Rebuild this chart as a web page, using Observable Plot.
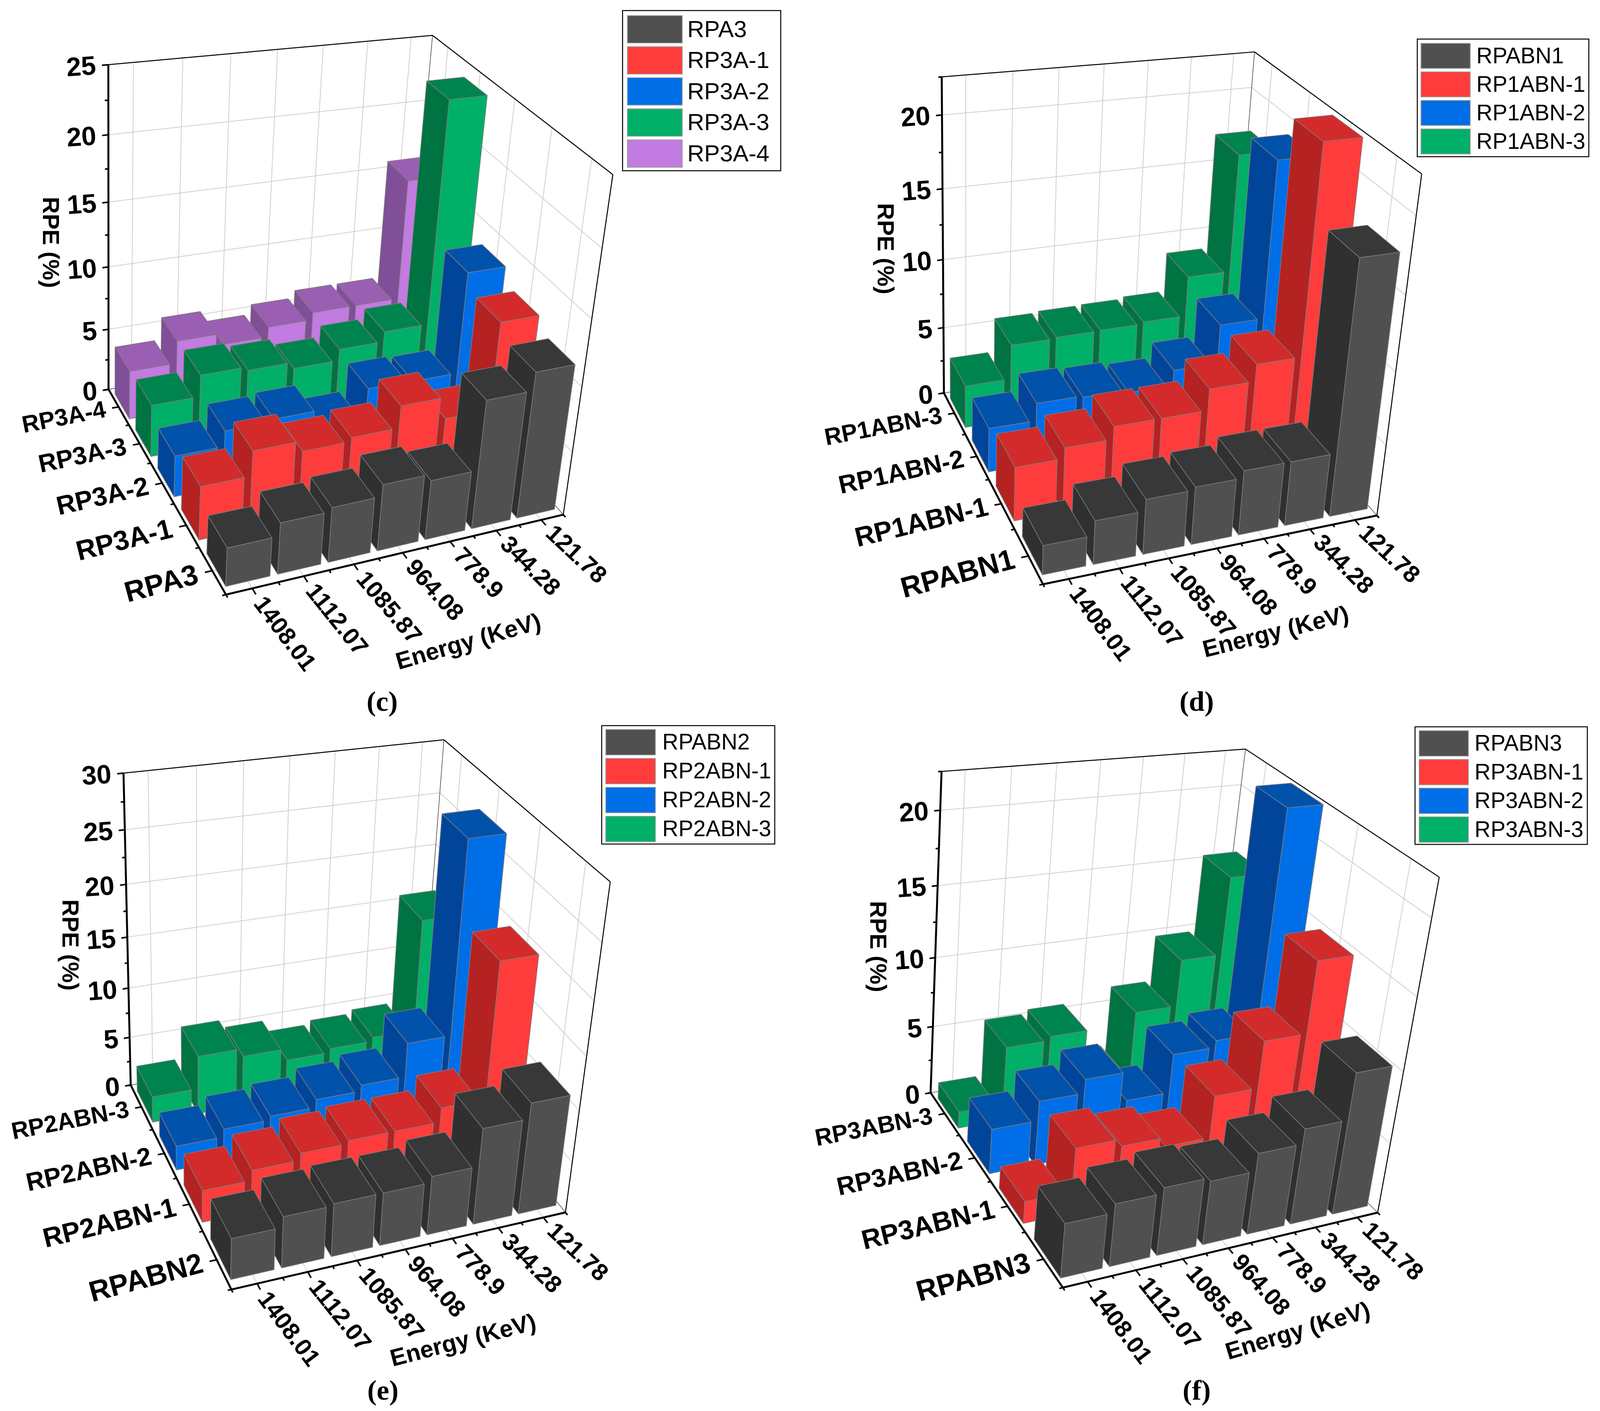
<!DOCTYPE html>
<html>
<head>
<meta charset="utf-8">
<script src="https://cdn.jsdelivr.net/npm/d3@7"></script>
<script src="https://cdn.jsdelivr.net/npm/@observablehq/plot@0.6"></script>
<style>
html,body{margin:0;padding:0;background:#fff;overflow:hidden}
#grid{display:grid;height:3611px}
#grid svg{display:block;background:#fff;overflow:visible}
</style>
</head>
<body>
<div id="grid"></div>
<script>
// ---------- values (RPE %, by energy, left to right) ----------
const energies = ["1408.01","1112.07","1085.87","964.08","778.9","344.28","121.78"];

const seriesC = ["RPA3","RP3A-1","RP3A-2","RP3A-3","RP3A-4"];
const rpa3   = [2.9,3.9,4.2,5.1,4.6,9.9,11.3];
const rp3a1  = [4.1,6,5.2,5.5,7.2,5.5,12.25];
const rp3a2  = [3.2,4.4,4.6,3.4,5.6,5.5,13.4];
const rp3a3  = [4.1,5.8,5.5,5,5.9,6.7,24];
const rp3a4  = [3.9,5.7,4.8,5.6,6.2,6.2,15.8];

const seriesD = ["RPABN1","RP1ABN-1","RP1ABN-2","RP1ABN-3"];
const rpabn1  = [2,3,3.8,4,4.5,4.5,17.4];
const rp1abn1 = [3.75,4.5,5.4,5.4,6.9,8.1,22.3];
const rp1abn2 = [3.15,4.4,4.3,4.1,5.2,8,19];
const rp1abn3 = [3.1,5.6,5.7,5.75,5.9,8.8,17.2];

const seriesE = ["RPABN2","RP2ABN-1","RP2ABN-2","RP2ABN-3"];
const rpabn2  = [3.9,4.9,5.1,5.1,5.7,9.3,10.8];
const rp2abn1 = [3.1,4.1,4.8,5.1,5.1,6.5,19.6];
const rp2abn2 = [2.4,3.2,3.6,4.4,5,8.4,27];
const rp2abn3 = [2.6,5.9,5.1,3.9,4.3,4.7,15.9];

const seriesF = ["RPABN3","RP3ABN-1","RP3ABN-2","RP3ABN-3"];
const rpabn3  = [3.7,4.3,4.7,4.45,5.7,6.75,10];
const rp3abn1 = [1.55,4.6,4.1,3.45,6.4,9.7,14.7];
const rp3abn2 = [3.2,4.6,5.6,3.5,6.3,6.8,22.4];
const rp3abn3 = [1.2,5.4,5.7,2,6.5,9.9,15.5];

// front, top, side colours of each series, and its legend swatch
const palette = [
  {front:"#505050", top:"#383838", side:"#303030"},
  {front:"#FF3C3C", top:"#D32B2B", side:"#B52222"},
  {front:"#006EE6", top:"#0052AB", side:"#00459A"},
  {front:"#00AF68", top:"#00844F", side:"#007342"},
  {front:"#C27BE0", top:"#9A5FB2", side:"#804F98"}
];

// ---------- per-panel camera calibration and layout (reference pixels) ----------
const REF_W = 4290, SPLIT_X = 2130, SPLIT_Y = 1845, REF_H = 3611;
const panels = [
 { letter:"c", series:seriesC, rows:[rpa3,rp3a1,rp3a2,rp3a3,rp3a4], zMax:25, zTicks:[0,5,10,15,20,25],
   frame:[0,0,SPLIT_X,SPLIT_Y],
   cam:{F:[607,1521],R:[1501,1318],A:[287,995],B:[1097,861],At:[293,164],Bt:[1149,91],Rt:[1650,445]},
   zCal:[[5,843],[10,683],[15,517],[20,345]],
   legend:{box:[1669,27,2093,437],sw:[1682,1829],top:40,pitch:79.5,sh:70,tx:1842,fs:60},
   rpe:[135,620], energy:[1255,1642,-16], caption:[1024,1795] },
 { letter:"d", series:seriesD, rows:[rpabn1,rp1abn1,rp1abn2,rp1abn3], zMax:22.5, zTicks:[0,5,10,15,20],
   frame:[SPLIT_X,0,REF_W-SPLIT_X,SPLIT_Y],
   cam:{F:[2794,1494],R:[3694,1318],A:[2531,1006],B:[3297,891],At:[2524,195],Bt:[3364,132],Rt:[3810,446]},
   zCal:[[5,839],[10,664],[15,483],[20,294]],
   legend:{box:[3800,100,4260,401],sw:[3810,3942],top:111,pitch:73,sh:64,tx:3958,fs:57},
   rpe:[2373,636], energy:[3420,1617,-14], caption:[3208,1795] },
 { letter:"e", series:seriesE, rows:[rpabn2,rp2abn1,rp2abn2,rp2abn3], zMax:30, zTicks:[0,5,10,15,20,25,30],
   frame:[0,SPLIT_Y,SPLIT_X,REF_H-SPLIT_Y],
   cam:{F:[620,3298],R:[1512,3104],A:[349,2777],B:[1133,2642],At:[332,1977],Bt:[1185,1894],Rt:[1639,2256]},
   zCal:[[5,2656],[10,2529],[15,2398],[20,2262],[25,2123]],
   legend:{box:[1613,1857,2077,2160],sw:[1624,1757],top:1867,pitch:74,sh:65,tx:1775,fs:57},
   rpe:[187,2418], energy:[1241,3430,-14.5], caption:[1026,3558] },
 { letter:"f", series:seriesF, rows:[rpabn3,rp3abn1,rp3abn2,rp3abn3], zMax:22.5, zTicks:[0,5,10,15,20],
   frame:[SPLIT_X,SPLIT_Y,REF_W-SPLIT_X,REF_H-SPLIT_Y],
   cam:{F:[2847,3296],R:[3696,3100],A:[2495,2796],B:[3240,2677],At:[2523,1973],Bt:[3340,1915],Rt:[3857,2246]},
   zCal:[[5,2625],[10,2451],[15,2266],[20,2074]],
   legend:{box:[3794,1860,4256,2161],sw:[3805,3937],top:1870,pitch:73.5,sh:65,tx:3953,fs:57},
   rpe:[2353,2422], energy:[3479,3406,-16.7], caption:[3208,3558] }
];

const BAR_W = 0.85, BAR_D = 0.70;
const FONT = "'Liberation Sans', Arial, sans-serif";

// The window may be narrower than the reference: fit the full width of the reference into it.
const pageW = Math.min(window.innerWidth || REF_W, REF_W);
const col1 = Math.round(SPLIT_X * pageW / REF_W), col2 = pageW - col1;
const gridEl = document.getElementById("grid");
gridEl.style.width = pageW + "px";
gridEl.style.gridTemplateColumns = `${col1}px ${col2}px`;
gridEl.style.gridTemplateRows = `${SPLIT_Y}px ${REF_H-SPLIT_Y}px`;

// Least-squares fit of a perspective camera (3x4, last term 1) to box corners.
function fitCamera(pts){
  const n = 11, M = Array.from({length:n},()=>new Array(n).fill(0)), b = new Array(n).fill(0);
  const add = (r,t)=>{ for(let i=0;i<n;i++){ b[i]+=r[i]*t; for(let j=0;j<n;j++) M[i][j]+=r[i]*r[j]; } };
  for(const [u,v,h,X0,Y0] of pts){
    const X=X0/1000, Y=Y0/1000;
    add([u,v,h,1,0,0,0,0,-X*u,-X*v,-X*h],X);
    add([0,0,0,0,u,v,h,1,-Y*u,-Y*v,-Y*h],Y);
  }
  for(let c=0;c<n;c++){
    let p=c; for(let r=c+1;r<n;r++) if(Math.abs(M[r][c])>Math.abs(M[p][c])) p=r;
    [M[c],M[p]]=[M[p],M[c]]; [b[c],b[p]]=[b[p],b[c]];
    for(let r=0;r<n;r++){ if(r===c) continue; const f=M[r][c]/M[c][c];
      for(let k=c;k<n;k++) M[r][k]-=f*M[c][k]; b[r]-=f*b[c]; }
  }
  const q=b.map((x,i)=>x/M[i][i]);
  return (u,v,h)=>{
    const w=q[8]*u+q[9]*v+q[10]*h+1;
    return [1000*(q[0]*u+q[1]*v+q[2]*h+q[3])/w, 1000*(q[4]*u+q[5]*v+q[6]*h+q[7])/w];
  };
}

function drawPanel(p,idx){
  const c=p.cam;
  const calib=[[0,0,0,...c.F],[1,0,0,...c.R],[0,1,0,...c.A],[1,1,0,...c.B],[0,1,1,...c.At],[1,1,1,...c.Bt],[1,0,1,...c.Rt]];
  for(const [z,y] of p.zCal){ const t=z/p.zMax; calib.push([0,1,t,c.A[0]+(c.At[0]-c.A[0])*t,y]); }
  const P=fitCamera(calib);
  const nx=energies.length, ny=p.series.length;
  const H=z=>z/p.zMax;
  const seg=(a,b)=>{const s=P(...a),e=P(...b);return {x1:s[0],y1:s[1],x2:e[0],y2:e[1]};};

  // walls and floor grid
  const grid=[];
  for(const z of p.zTicks){ if(z===0) continue; const h=H(z);
    grid.push(seg([0,1,h],[1,1,h]),seg([1,1,h],[1,0,h])); }
  energies.forEach((_,i)=>{ const u=(i+.5)/nx;
    grid.push(seg([u,1,0],[u,1,1]),seg([u,0,0],[u,1,0])); });
  p.series.forEach((_,j)=>{ const v=(j+.5)/ny;
    grid.push(seg([1,v,0],[1,v,1]),seg([0,v,0],[1,v,0])); });
  const floorEdge=[seg([0,1,0],[1,1,0]),seg([1,1,0],[1,0,0]),seg([1,1,0],[1,1,1])];

  // bar faces, painted back to front and right to left
  const faces=[];
  for(let j=ny-1;j>=0;j--){
    const col=palette[j], vals=p.rows[j];
    for(let i=nx-1;i>=0;i--){
      const h=H(vals[i]);
      const u0=(i+.5-BAR_W/2)/nx,u1=(i+.5+BAR_W/2)/nx,v0=(j+.5-BAR_D/2)/ny,v1=(j+.5+BAR_D/2)/ny;
      const poly=(name,fill,corners)=>{
        const id=`${j}-${i}-${name}`;
        [...corners,corners[0]].forEach(k=>{const q=P(...k);faces.push({id,fill,x:q[0],y:q[1]});});
      };
      poly("side",col.side,[[u0,v0,0],[u0,v1,0],[u0,v1,h],[u0,v0,h]]);
      poly("front",col.front,[[u0,v0,0],[u1,v0,0],[u1,v0,h],[u0,v0,h]]);
      poly("top",col.top,[[u0,v0,h],[u1,v0,h],[u1,v1,h],[u0,v1,h]]);
    }
  }

  // axes and ticks
  const axesThick=[seg([0,1,0],[0,1,1]),seg([0,1,0],[0,0,0]),seg([0,0,0],[1,0,0])];
  const axesThin=[seg([0,1,1],[1,1,1]),seg([1,1,1],[1,0,1]),seg([1,0,1],[1,0,0])];
  const ticks=[];
  p.zTicks.forEach(z=>ticks.push(seg([0,1,H(z)],[-.018,1,H(z)])));
  p.zTicks.forEach(z=>{ const m=H(z+2.5); if(m<=1) ticks.push(seg([0,1,m],[-.01,1,m])); });
  for(let i=0;i<=nx;i++) ticks.push(seg([i/nx,0,0],[i/nx,-.012,0]));
  for(let i=0;i<nx;i++) ticks.push(seg([(i+.5)/nx,0,0],[(i+.5)/nx,-.025,0]));
  for(let j=0;j<=ny;j++) ticks.push(seg([0,j/ny,0],[-.01,j/ny,0]));
  for(let j=0;j<ny;j++) ticks.push(seg([0,(j+.5)/ny,0],[-.02,(j+.5)/ny,0]));

  // tick labels
  const zLabels=p.zTicks.map(z=>{const q=P(-.035,1,H(z));return {t:String(z),x:q[0],y:q[1]};});
  const xLabels=energies.map((t,i)=>{const q=P((i+.5)/nx,-.045,0);return {t,x:q[0],y:q[1],r:53-10*i/(nx-1)};});
  const yLabels=p.series.map((t,j)=>{const q=P(-.04,(j+.5)/ny,0);const a=ny>1?j/(ny-1):0;
    return {t,x:q[0],y:q[1],r:-15+4*a,s:74-13*a};});

  // legend
  const L=p.legend;
  const legend=p.series.map((t,j)=>({t,fill:palette[j].front,y1:L.top+j*L.pitch,y2:L.top+j*L.pitch+L.sh}));

  const [ox,oy,w,hh]=p.frame;
  const plotW = idx%2===0 ? col1 : col2;
  const plot=Plot.plot({
    width:plotW,height:hh,margin:0,
    x:{domain:[ox,ox+w],range:[0,plotW],axis:null},
    y:{domain:[oy,oy+hh],range:[0,hh],axis:null},
    style:{fontFamily:FONT,background:"#fff",overflow:"visible"},
    marks:[
      Plot.link(grid,{x1:"x1",y1:"y1",x2:"x2",y2:"y2",stroke:"#cfcfcf",strokeWidth:2}),
      Plot.link(floorEdge,{x1:"x1",y1:"y1",x2:"x2",y2:"y2",stroke:"#444",strokeWidth:1.5}),
      Plot.line(faces,{x:"x",y:"y",z:"id",fill:"fill",stroke:"#7d7d7d",strokeWidth:1.6,strokeLinejoin:"round"}),
      Plot.link(axesThin,{x1:"x1",y1:"y1",x2:"x2",y2:"y2",stroke:"#000",strokeWidth:2.5}),
      Plot.link(axesThick,{x1:"x1",y1:"y1",x2:"x2",y2:"y2",stroke:"#000",strokeWidth:5}),
      Plot.link(ticks,{x1:"x1",y1:"y1",x2:"x2",y2:"y2",stroke:"#000",strokeWidth:4}),
      Plot.text(zLabels,{x:"x",y:"y",text:"t",textAnchor:"end",lineAnchor:"middle",fontSize:68,fontWeight:"bold",fill:"#000",rotate:-4}),
      Plot.text(xLabels,{x:"x",y:"y",text:"t",textAnchor:"start",lineAnchor:"middle",fontSize:61,fontWeight:"bold",fill:"#000",rotate:"r"}),
      Plot.text(yLabels,{x:"x",y:"y",text:"t",textAnchor:"end",lineAnchor:"middle",fontSize:"s",fontWeight:"bold",fill:"#000",rotate:"r"}),
      Plot.text([{t:"RPE (%)",x:p.rpe[0],y:p.rpe[1]}],{x:"x",y:"y",text:"t",fontSize:60,fontWeight:"bold",fill:"#000",rotate:90}),
      Plot.text([{t:"Energy (KeV)",x:p.energy[0],y:p.energy[1]}],{x:"x",y:"y",text:"t",fontSize:61,fontWeight:"bold",fill:"#000",rotate:p.energy[2]}),
      Plot.text([{t:`(${p.letter})`,x:p.caption[0],y:p.caption[1]}],{x:"x",y:"y",text:"t",fontSize:72,fontWeight:"bold",fill:"#000",fontFamily:"'Liberation Serif', serif"}),
      Plot.rect([{x1:L.box[0],x2:L.box[2],y1:L.box[1],y2:L.box[3]}],{x1:"x1",x2:"x2",y1:"y1",y2:"y2",fill:"#fff",stroke:"#000",strokeWidth:2.5}),
      Plot.rect(legend,{x1:()=>L.sw[0],x2:()=>L.sw[1],y1:"y1",y2:"y2",fill:"fill",stroke:"#999",strokeWidth:2}),
      Plot.text(legend,{x:()=>L.tx,y:d=>(d.y1+d.y2)/2,text:"t",textAnchor:"start",lineAnchor:"middle",fontSize:L.fs,fill:"#000"})
    ]
  });
  gridEl.appendChild(plot);
}
panels.forEach(drawPanel);
</script>
</body>
</html>
